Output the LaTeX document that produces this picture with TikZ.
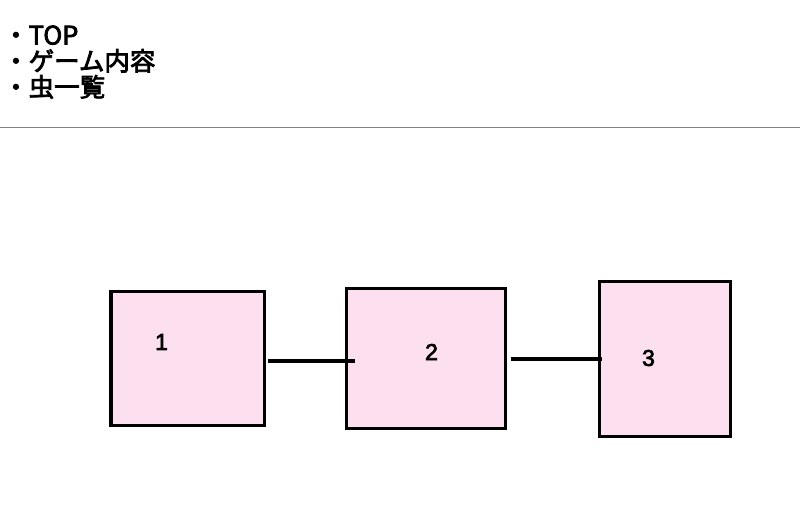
\documentclass[tikz,border=0pt]{standalone}
\usepackage{fontspec}
\setmainfont[FakeBold=3]{Noto Sans CJK JP}
\newfontfamily\digitfont[FakeBold=3]{Liberation Sans}
\definecolor{boxpink}{RGB}{253,224,240}
\definecolor{rulegray}{RGB}{130,130,130}
\begin{document}
\begin{tikzpicture}[x=1pt,y=-1pt,
  pbox/.style={draw=black,line width=3.4pt,fill=boxpink,inner sep=0pt},
  menu/.style={anchor=base west,inner sep=0pt,font=\fontsize{25.5}{25.5}\selectfont},
  num/.style={inner sep=0pt,font=\digitfont\fontsize{23}{23}\selectfont},
  conn/.style={line width=3.4pt}]
\useasboundingbox (0,0) rectangle (800,507);
\fill[white] (0,0) rectangle (800,507);
\node[menu] (m1) at (3,44.5) {・TOP};
\node[menu] (m2) at (3,70.5) {・ゲーム内容};
\node[menu] (m3) at (3,96.5) {・虫一覧};
\coordinate (rl) at (0,127);
\coordinate (rr) at (800,127);
\draw[rulegray,line width=1pt] (rl) -- (rr);
\node[pbox,minimum width=153.5pt,minimum height=134pt] (b1) at (187.75,358.5) {};
\node[pbox,minimum width=159pt,minimum height=140pt] (b2) at (425.7,358.5) {};
\node[pbox,minimum width=131pt,minimum height=155pt] (b3) at (665,359) {};
\node[num] (t1) at (161.5,342) {1};
\node[num] (t2) at (431.5,352) {2};
\node[num] (t3) at (648.5,358) {3};
\coordinate (c1a) at (268,361);
\coordinate (c1b) at (355,361);
\coordinate (c2a) at (510.5,359);
\coordinate (c2b) at (601.5,359);
\draw[conn] (c1a) -- (c1b);
\draw[conn] (c2a) -- (c2b);
\end{tikzpicture}
\end{document}
